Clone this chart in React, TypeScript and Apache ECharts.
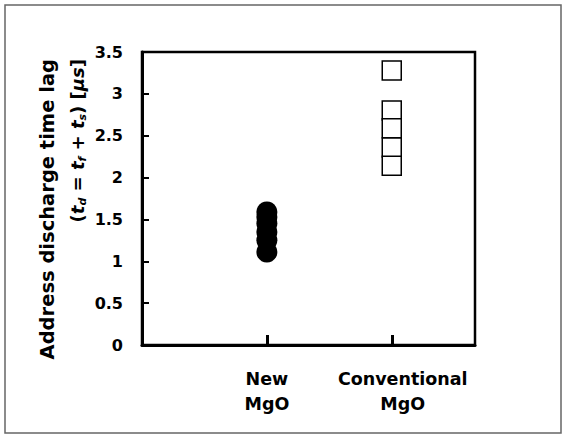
import React, { useEffect, useRef } from 'react';
import * as echarts from 'echarts';

const categories = ['New\nMgO', 'Conventional\nMgO'];
const categoryX = [1.5, 3];
const newMgO = [1.11, 1.25, 1.35, 1.45, 1.53, 1.59];
const conventionalMgO = [3.28, 2.8, 2.59, 2.36, 2.14];
const yMin = 0;
const yMax = 3.5;
const yStep = 0.5;
const titleLine1 = 'Address discharge time lag';
const titleLine2 =
  '{n|(}{it|t}{sub|d}{n| = }{it|t}{sub|f}{n| + }{it|t}{sub|s}{n|) [}{it|μs}{n|]}';

const FONT = '"DejaVu Sans", sans-serif';

export default function App() {
  const ref = useRef<HTMLDivElement>(null);
  useEffect(() => {
    if (!ref.current) return;
    const chart = echarts.init(ref.current, undefined, { renderer: 'svg' });
    chart.setOption({
      animation: false,
      backgroundColor: '#fff',
      grid: {
        left: 142,
        right: 89,
        top: 52,
        bottom: 89,
        show: true,
        borderColor: '#000',
        borderWidth: 2.5,
        backgroundColor: 'transparent',
      },
      xAxis: {
        type: 'value',
        min: 0,
        max: 4,
        interval: 1.5,
        splitLine: { show: false },
        axisLine: { show: true, lineStyle: { color: '#000', width: 3 } },
        axisTick: {
          show: true,
          inside: true,
          length: 10,
          customValues: categoryX,
          lineStyle: { color: '#000', width: 3 },
        },
        axisLabel: {
          customValues: categoryX,
          margin: 21,
          color: '#000',
          fontFamily: FONT,
          fontWeight: 'bold',
          fontSize: 17.5,
          lineHeight: 25,
          formatter: (v: number) => {
            const i = categoryX.indexOf(v);
            if (i < 0) return '';
            const lines = categories[i].split('\n');
            if (i === 1) return lines.map((l) => `{c|${l}}`).join('\n');
            return lines.join('\n');
          },
          rich: {
            c: {
              padding: [0, 0, 0, 22],
              color: '#000',
              fontFamily: FONT,
              fontWeight: 'bold',
              fontSize: 17.5,
              lineHeight: 25,
            },
          },
        },
      },
      yAxis: {
        type: 'value',
        min: yMin,
        max: yMax,
        interval: yStep,
        splitLine: { show: false },
        axisLine: { show: true, lineStyle: { color: '#000', width: 3 } },
        axisTick: { show: true, inside: true, length: 7, lineStyle: { color: '#000', width: 2 } },
        axisLabel: {
          margin: 19,
          color: '#000',
          fontFamily: FONT,
          fontWeight: 'bold',
          fontSize: 16,
        },
      },
      graphic: [
        {
          type: 'rect',
          shape: { x: 5, y: 5, width: 556, height: 428 },
          style: { fill: 'none', stroke: '#666', lineWidth: 1.5 },
          silent: true,
        },
        {
          type: 'text',
          x: 47,
          y: 59,
          rotation: Math.PI / 2,
          style: {
            text: titleLine1,
            fontFamily: FONT,
            fontWeight: 'bold',
            fontSize: 19.5,
            fill: '#000',
            align: 'right',
            verticalAlign: 'middle',
          },
        },
        {
          type: 'text',
          x: 77,
          y: 59,
          rotation: Math.PI / 2,
          style: {
            text: titleLine2,
            fontFamily: FONT,
            fontWeight: 'bold',
            fontSize: 18,
            fill: '#000',
            align: 'right',
            verticalAlign: 'middle',
            rich: {
              n: { fontFamily: FONT, fontWeight: 'bold', fontSize: 18, fill: '#000', lineHeight: 22 },
              it: {
                fontFamily: FONT,
                fontWeight: 'bold',
                fontStyle: 'italic',
                fontSize: 18,
                fill: '#000',
                lineHeight: 22,
              },
              sub: {
                fontFamily: FONT,
                fontWeight: 'bold',
                fontStyle: 'italic',
                fontSize: 11,
                fill: '#000',
                lineHeight: 22,
                verticalAlign: 'bottom',
              },
            },
          },
        },
      ],
      series: [
        {
          name: 'New MgO',
          type: 'scatter',
          symbol: 'circle',
          symbolSize: 21,
          itemStyle: { color: '#000', opacity: 1 },
          data: newMgO.map((v) => [categoryX[0], v]),
        },
        {
          name: 'Conventional MgO',
          type: 'scatter',
          symbol: 'rect',
          symbolSize: 19,
          itemStyle: { color: '#fff', borderColor: '#000', borderWidth: 1.5, opacity: 1 },
          data: conventionalMgO.map((v) => [categoryX[1], v]),
        },
      ],
    });
    return () => chart.dispose();
  }, []);
  return (
    <div
      ref={ref}
      style={{ position: 'fixed', left: 0, top: 0, width: 564, height: 434 }}
    />
  );
}
